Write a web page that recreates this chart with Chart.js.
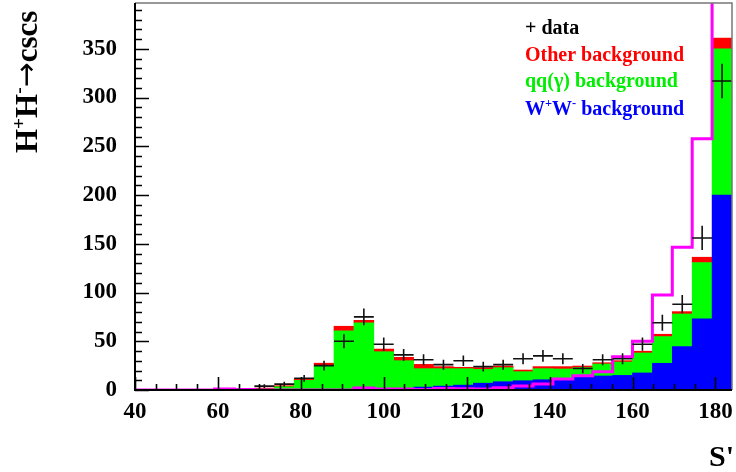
<!DOCTYPE html>
<html>
<head>
<meta charset="utf-8">
<title>H+H- to cscs, S' distribution</title>
<script src="https://cdn.jsdelivr.net/npm/chart.js@4.4.1/dist/chart.umd.min.js"></script>
<style>
  html, body { margin: 0; padding: 0; background: #fff; }
  #wrap { width: 736px; height: 472px; }
</style>
</head>
<body>
<div id="wrap"><canvas id="sprime-chart" width="736" height="472"></canvas></div>
<script>
// S' histogram: 30 bins of 4.8 between 40 and 184
const binWidth = 4.8;
const binCenters = [42.4, 47.2, 52.0, 56.8, 61.6, 66.4, 71.2, 76.0, 80.8, 85.6,
                    90.4, 95.2, 100.0, 104.8, 109.6, 114.4, 119.2, 124.0, 128.8, 133.6,
                    138.4, 143.2, 148.0, 152.8, 157.6, 162.4, 167.2, 172.0, 176.8, 181.6];
const binEdges = [40, 44.8, 49.6, 54.4, 59.2, 64.0, 68.8, 73.6, 78.4, 83.2, 88.0,
                  92.8, 97.6, 102.4, 107.2, 112.0, 116.8, 121.6, 126.4, 131.2, 136.0,
                  140.8, 145.6, 150.4, 155.2, 160.0, 164.8, 169.6, 174.4, 179.2, 184.0];

// stacked backgrounds (bottom to top)
const wwBkg = [0, 0, 0, 0, 0, 0, 0, 0, 0, 0,
               0.3, 0.5, 1, 1.7, 3, 4, 5, 7, 8.5, 9.5,
               10.5, 11.6, 13, 14.4, 15, 17.5, 27.4, 44.5, 73, 200];
const qqBkg = [0, 0, 0, 0, 0, 0, 1, 3.4, 10, 24.3,
               60.3, 68.3, 38.3, 28.4, 18.9, 17.9, 16.9, 14.2, 14.4, 9.3,
               11.4, 10, 9.9, 12.3, 13.7, 20.5, 27.4, 33.5, 57.7, 150];
const otherBkg = [0, 0, 0, 0, 0, 0, 1, 1, 1.5, 3.2,
                  4.8, 2.7, 2.7, 3.4, 4.4, 2.1, 1.4, 1.7, 1.7, 1.7,
                  2.1, 2.4, 1.7, 1.3, 1.4, 1.8, 2.4, 2.4, 5.5, 11];

// observed events
const dataCounts = [0, 0, 0, 0, 0, 0, 4, 6, 12, 25,
                    50, 75, 47, 36, 31, 26, 30, 24, 26, 32,
                    35, 32, 22, 31, 32, 47, 69, 88, 156, 317];

// H+H- -> cscs signal (outline)
const signal = [0, 0, 0, 0, 1, 0.5, 0, 0, 0, 0,
                0, 2, 1, 1, 0.5, 1.5, 1.2, 1, 2.4, 4,
                6.2, 11.3, 14.7, 18.8, 34.2, 50, 97.5, 146.5, 257.7, 700];

const serif = '"Liberation Serif", "Times New Roman", serif';

function toPoints(values) {
  return values.map((v, i) => ({ x: binCenters[i], y: v }));
}

// step outline: value held from each lower edge, closed at the last edge
const signalPoints = binEdges.map((e, i) => ({ x: e, y: signal[Math.min(i, signal.length - 1)] }));

// text with raised parts, e.g. W+W-
function drawRich(ctx, parts, x, y, size) {
  let cx = x;
  parts.forEach(p => {
    const s = p.sup ? size * 0.62 : size;
    ctx.font = p.font ? p.font : 'bold ' + s + 'px ' + serif;
    ctx.fillText(p.t, cx, p.sup ? y - size * 0.4 : (y + (p.dy || 0)));
    cx += ctx.measureText(p.t).width;
  });
}

// data crosses: bin width horizontally, sqrt(N) vertically
const errorBars = {
  id: 'errorBars',
  afterDatasetsDraw(chart) {
    const { ctx, chartArea, scales: { x, y } } = chart;
    ctx.save();
    ctx.beginPath();
    ctx.rect(chartArea.left, chartArea.top, chartArea.width, chartArea.height);
    ctx.clip();
    ctx.strokeStyle = '#111';
    ctx.lineWidth = 1.6;
    dataCounts.forEach((n, i) => {
      if (n <= 0) return;
      const err = Math.sqrt(n);
      const xc = x.getPixelForValue(binCenters[i]);
      const xl = x.getPixelForValue(binCenters[i] - binWidth / 2);
      const xr = x.getPixelForValue(binCenters[i] + binWidth / 2);
      const yc = y.getPixelForValue(n);
      ctx.beginPath();
      ctx.moveTo(xl, yc);
      ctx.lineTo(xr, yc);
      ctx.moveTo(xc, y.getPixelForValue(n - err));
      ctx.lineTo(xc, y.getPixelForValue(n + err));
      ctx.stroke();
    });
    ctx.restore();
  }
};

// frame, inward ticks, axis titles and the text legend
const frameAndText = {
  id: 'frameAndText',
  afterDraw(chart) {
    const { ctx, chartArea: a, scales: { x, y } } = chart;
    ctx.save();

    ctx.strokeStyle = '#777';
    ctx.lineWidth = 1.5;
    ctx.beginPath();
    ctx.moveTo(a.left, a.top);
    ctx.lineTo(a.right, a.top);
    ctx.lineTo(a.right, a.bottom);
    ctx.stroke();

    ctx.strokeStyle = '#000';
    ctx.lineWidth = 2;
    ctx.beginPath();
    ctx.moveTo(a.left, a.top);
    ctx.lineTo(a.left, a.bottom);
    ctx.lineTo(a.right, a.bottom);
    ctx.stroke();

    ctx.lineWidth = 1.6;
    ctx.beginPath();
    for (let v = 0; v <= y.max; v += 10) {
      const py = Math.round(y.getPixelForValue(v)) + 0.5;
      const len = v % 50 === 0 ? 14 : 7;
      ctx.moveTo(a.left, py);
      ctx.lineTo(a.left + len, py);
    }
    for (let v = x.min; v <= x.max; v += 5) {
      const px = Math.round(x.getPixelForValue(v)) + 0.5;
      const len = v % 20 === 0 ? 13 : 6;
      ctx.moveTo(px, a.bottom);
      ctx.lineTo(px, a.bottom - len);
    }
    ctx.stroke();

    ctx.textAlign = 'left';
    ctx.textBaseline = 'alphabetic';

    // legend text
    ctx.fillStyle = '#000';
    drawRich(ctx, [{ t: '+ data' }], 525, 34, 20);
    ctx.fillStyle = '#ff0000';
    drawRich(ctx, [{ t: 'Other background' }], 525, 61, 20);
    ctx.fillStyle = '#00ee00';
    drawRich(ctx, [{ t: 'qq(\u03b3) background' }], 525, 87, 20);
    ctx.fillStyle = '#0000ff';
    drawRich(ctx, [{ t: 'W' }, { t: '+', sup: true }, { t: 'W' }, { t: '-', sup: true }, { t: ' background' }], 525, 115, 20);

    // y title, rotated
    ctx.fillStyle = '#000';
    ctx.save();
    ctx.translate(37, 153);
    ctx.rotate(-Math.PI / 2);
    drawRich(ctx, [
      { t: 'H' }, { t: '+', sup: true }, { t: 'H' }, { t: '-', sup: true },
      { t: '\u2192', font: '30px "DejaVu Sans", sans-serif', dy: -1 },
      { t: 'cscs' }
    ], 0, 0, 31);
    ctx.restore();

    // x title
    ctx.font = 'bold 30px ' + serif;
    ctx.textAlign = 'right';
    ctx.fillText("S'", 734, 466);

    ctx.restore();
  }
};

const tickFont = { family: serif, size: 23, weight: 'bold' };

new Chart(document.getElementById('sprime-chart'), {
  type: 'bar',
  data: {
    datasets: [
      {
        label: 'W+W- background',
        data: toPoints(wwBkg),
        backgroundColor: '#0000ff',
        borderWidth: 0,
        barPercentage: 1,
        categoryPercentage: 1,
        stack: 'bkg',
        order: 3
      },
      {
        label: 'qq(gamma) background',
        data: toPoints(qqBkg),
        backgroundColor: '#00ff00',
        borderWidth: 0,
        barPercentage: 1,
        categoryPercentage: 1,
        stack: 'bkg',
        order: 3
      },
      {
        label: 'Other background',
        data: toPoints(otherBkg),
        backgroundColor: '#ff0000',
        borderWidth: 0,
        barPercentage: 1,
        categoryPercentage: 1,
        stack: 'bkg',
        order: 3
      },
      {
        type: 'line',
        label: 'H+H- signal',
        data: signalPoints,
        stepped: 'before',
        borderColor: '#ff00ff',
        borderWidth: 3,
        pointRadius: 0,
        fill: false,
        stack: 'sig',
        order: 2
      },
      {
        type: 'scatter',
        label: 'data',
        data: toPoints(dataCounts),
        pointRadius: 0,
        showLine: false,
        stack: 'data',
        order: 1
      }
    ]
  },
  options: {
    responsive: false,
    animation: false,
    devicePixelRatio: 1,
    layout: { padding: { top: 3, right: 4, left: 0, bottom: 0 } },
    plugins: {
      legend: { display: false },
      tooltip: { enabled: false }
    },
    scales: {
      x: {
        type: 'linear',
        min: 40,
        max: 184,
        offset: false,
        stacked: true,
        grid: { display: false, drawTicks: false, offset: false },
        border: { display: false },
        ticks: {
          stepSize: 20,
          includeBounds: false,
          autoSkip: false,
          maxRotation: 0,
          padding: 8,
          color: '#000',
          font: tickFont
        },
        afterFit(s) {
          s.height = 82;
          s.paddingLeft = 0;
          s.paddingRight = 0;
        }
      },
      y: {
        type: 'linear',
        min: 0,
        max: 397,
        stacked: true,
        grid: { display: false, drawTicks: false },
        border: { display: false },
        ticks: {
          stepSize: 50,
          includeBounds: false,
          padding: 18,
          color: '#000',
          font: tickFont
        },
        afterFit(s) {
          s.width = 135;
          s.paddingTop = 0;
          s.paddingBottom = 0;
        }
      }
    }
  },
  plugins: [errorBars, frameAndText]
});
</script>
</body>
</html>
